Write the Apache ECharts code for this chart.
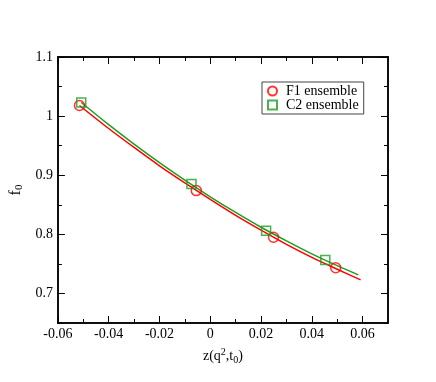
<!DOCTYPE html>
<html lang="en">
<head>
    <meta charset="UTF-8">
    <title>f0 vs z</title>
    <script src="https://cdn.jsdelivr.net/npm/echarts@6/dist/echarts.min.js"></script>
</head>
<body style="margin:0;background:#fff;">
<div id='box' style="width: 436px;height:382px;"></div>
<script>
    // data points
    var f1X = [-0.0515, -0.0055, 0.0249, 0.0494];
    var f1Y = [1.018, 0.874, 0.795, 0.7435];
    var c2X = [-0.0508, -0.0074, 0.022, 0.0453];
    var c2Y = [1.023, 0.885, 0.806, 0.7565];

    // fit curves, sampled by eye
    var f1FitX = [-0.0515, -0.04, -0.03, -0.02, -0.01, 0, 0.01, 0.02, 0.03, 0.04, 0.05, 0.0592];
    var f1FitY = [1.018, 0.979, 0.947, 0.916, 0.887, 0.859, 0.832, 0.807, 0.783, 0.761, 0.741, 0.723];
    var c2FitX = [-0.0508, -0.04, -0.03, -0.02, -0.01, 0, 0.01, 0.02, 0.03, 0.04, 0.05, 0.0583];
    var c2FitY = [1.023, 0.9855, 0.9526, 0.9213, 0.8916, 0.8635, 0.837, 0.812, 0.789, 0.767, 0.747, 0.7315];

    // ticks
    var xMajor = [-0.06, -0.04, -0.02, 0, 0.02, 0.04, 0.06];
    var xMinor = [-0.05, -0.03, -0.01, 0.01, 0.03, 0.05];
    var yMajor = [0.7, 0.8, 0.9, 1.0, 1.1];
    var yMinor = [0.65, 0.75, 0.85, 0.95, 1.05];

    var red = '#ff0000';
    var green = '#1f9e1f';
    var font = '"Liberation Serif", "DejaVu Serif", serif';

    function pairs(xs, ys) {
        var out = [];
        for (var i = 0; i < xs.length; i++) out.push([xs[i], ys[i]]);
        return out;
    }

    function fmt(v) {
        return String(parseFloat(Number(v).toFixed(2)));
    }

    function xAx(pos, ticks, len, withLabel, extra) {
        var a = {
            type: 'value', position: pos, min: -0.06, max: 0.07,
            axisLine: {show: true, onZero: false, lineStyle: {color: '#000', width: 1.5}},
            axisTick: {show: true, inside: true, length: len, customValues: ticks, lineStyle: {color: '#000', width: 1}},
            axisLabel: {show: withLabel, customValues: ticks, formatter: fmt, color: '#000', fontFamily: font, fontSize: 14, margin: 4},
            splitLine: {show: false}
        };
        return Object.assign(a, extra || {});
    }

    function yAx(pos, ticks, len, withLabel, extra) {
        var a = {
            type: 'value', position: pos, min: 0.65, max: 1.1,
            axisLine: {show: true, onZero: false, lineStyle: {color: '#000', width: 1.5}},
            axisTick: {show: true, inside: true, length: len, customValues: ticks, lineStyle: {color: '#000', width: 1}},
            axisLabel: {show: withLabel, customValues: ticks, formatter: fmt, color: '#000', fontFamily: font, fontSize: 14, margin: 5},
            splitLine: {show: false}
        };
        return Object.assign(a, extra || {});
    }

    var myChart = echarts.init(document.getElementById('box'));
    var option = {
        backgroundColor: '#fff',
        animation: false,
        grid: {left: 50, right: 48, top: 57, bottom: 59},
        legend: {
            data: ['F1 ensemble', 'C2 ensemble'],
            orient: 'vertical',
            left: 262, top: 82,
            padding: [2, 5, 2, 5],
            itemGap: 0,
            itemWidth: 9, itemHeight: 9,
            borderColor: '#444', borderWidth: 1,
            textStyle: {color: '#000', fontFamily: font, fontSize: 14, lineHeight: 13, padding: [0, 0, 0, 4]}
        },
        xAxis: [
            xAx('bottom', xMajor, 7, true, {
                name: 'z(q{sup|2},t{sub|0})',
                nameLocation: 'middle', nameGap: 24,
                nameTextStyle: {
                    color: '#000', fontFamily: font, fontSize: 14,
                    rich: {
                        sup: {fontSize: 10, fontFamily: font, color: '#000', verticalAlign: 'top', padding: [0, 0, 8, 0]},
                        sub: {fontSize: 10, fontFamily: font, color: '#000', verticalAlign: 'bottom', padding: [6, 0, 0, 0]}
                    }
                }
            }),
            xAx('bottom', xMinor, 4, false),
            xAx('top', xMajor, 7, false),
            xAx('top', xMinor, 4, false)
        ],
        yAxis: [
            yAx('left', yMajor, 7, true, {
                name: 'f{sub|0}',
                nameLocation: 'middle', nameGap: 29, nameRotate: 90,
                nameTextStyle: {
                    color: '#000', fontFamily: font, fontSize: 16,
                    rich: {
                        sub: {fontSize: 11, fontFamily: font, color: '#000', verticalAlign: 'bottom', padding: [6, 0, 0, 0]}
                    }
                }
            }),
            yAx('left', yMinor, 4, false),
            yAx('right', yMajor, 7, false),
            yAx('right', yMinor, 4, false)
        ],
        series: [
            {
                name: 'F1 fit', type: 'line', smooth: 0.3, showSymbol: false, symbol: 'none',
                data: pairs(f1FitX, f1FitY),
                lineStyle: {color: red, width: 1.5}, itemStyle: {color: red}, z: 2
            },
            {
                name: 'C2 fit', type: 'line', smooth: 0.3, showSymbol: false, symbol: 'none',
                data: pairs(c2FitX, c2FitY),
                lineStyle: {color: green, width: 1.5}, itemStyle: {color: green}, z: 2
            },
            {
                name: 'F1 ensemble', type: 'scatter', symbol: 'circle', symbolSize: 10,
                data: pairs(f1X, f1Y),
                itemStyle: {color: 'rgba(255,255,255,0)', borderColor: red, borderWidth: 1.5}, z: 3
            },
            {
                name: 'C2 ensemble', type: 'scatter', symbol: 'rect', symbolSize: 9,
                data: pairs(c2X, c2Y),
                itemStyle: {color: 'rgba(255,255,255,0)', borderColor: green, borderWidth: 1.5}, z: 3
            }
        ]
    };
    myChart.setOption(option);
</script>
</body>
</html>
